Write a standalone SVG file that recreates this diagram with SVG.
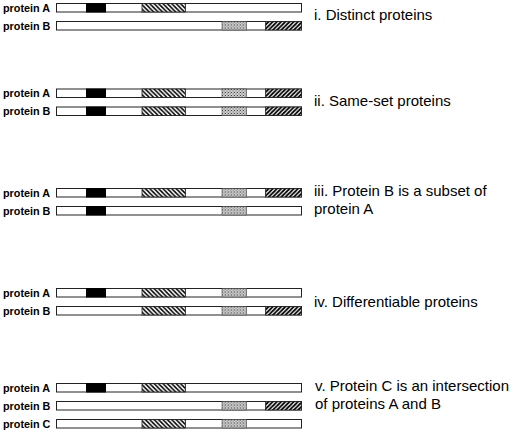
<svg xmlns="http://www.w3.org/2000/svg" width="513" height="433" viewBox="0 0 513 433">
<style>
.lbl{font-family:"Liberation Sans",Arial,sans-serif;font-weight:bold;font-size:10.8px;fill:#000}
.cap{font-family:"Liberation Sans",Arial,sans-serif;font-size:15px;fill:#000}
.bar{fill:#fff;stroke:#222;stroke-width:1}
.blk{fill:#000;stroke:#000;stroke-width:1}
.bs{fill:url(#bs);stroke:#222;stroke-width:0.8}
.fs{fill:url(#fs);stroke:#222;stroke-width:0.8}
.dt{fill:url(#dt);stroke:#444;stroke-width:0.6}
</style>
<defs>
<pattern id="bs" patternUnits="userSpaceOnUse" width="4.4" height="4.4">
<rect width="4.4" height="4.4" fill="#fff"/>
<path d="M0,0 L4.4,4.4 M-1,3.4 L1,5.4 M3.4,-1 L5.4,1" stroke="#000" stroke-width="1.5"/>
</pattern>
<pattern id="fs" patternUnits="userSpaceOnUse" width="4.2" height="4.2">
<rect width="4.2" height="4.2" fill="#fff"/>
<path d="M0,4.2 L4.2,0 M-1,1 L1,-1 M3.2,5.2 L5.2,3.2" stroke="#000" stroke-width="1.8"/>
</pattern>
<pattern id="dt" patternUnits="userSpaceOnUse" width="3" height="3">
<rect width="3" height="3" fill="#cfcfcf"/>
<rect x="0" y="0" width="1" height="1" fill="#444"/>
<rect x="1.5" y="1.5" width="1" height="1" fill="#666"/>
<rect x="2" y="0.5" width="0.7" height="0.7" fill="#888"/>
</pattern>
<g id="segBlk"><rect class="blk" x="86.5" y="0" width="19" height="8.5"/></g>
<g id="segBs"><rect class="bs" x="142" y="0" width="43.5" height="8.5"/></g>
<g id="segDt"><rect class="dt" x="222" y="0" width="24.5" height="8.5"/></g>
<g id="segFs"><rect class="fs" x="265.5" y="0" width="36" height="8.5"/></g>
</defs>

<g id="row-i">
<g id="i-protein-A" transform="translate(0,3.5)">
<text class="lbl" x="3" y="8.3">protein A</text>
<rect class="bar" x="56.5" y="0" width="245" height="8.5"/>
<use href="#segBlk"/><use href="#segBs"/>
</g>
<g id="i-protein-B" transform="translate(0,21.5)">
<text class="lbl" x="3" y="8.3">protein B</text>
<rect class="bar" x="56.5" y="0" width="245" height="8.5"/>
<use href="#segDt"/><use href="#segFs"/>
</g>
<text class="cap" x="314" y="20">i. Distinct proteins</text>
</g>

<g id="row-ii">
<g id="ii-protein-A" transform="translate(0,89)">
<text class="lbl" x="3" y="8.3">protein A</text>
<rect class="bar" x="56.5" y="0" width="245" height="8.5"/>
<use href="#segBlk"/><use href="#segBs"/><use href="#segDt"/><use href="#segFs"/>
</g>
<g id="ii-protein-B" transform="translate(0,107)">
<text class="lbl" x="3" y="8.3">protein B</text>
<rect class="bar" x="56.5" y="0" width="245" height="8.5"/>
<use href="#segBlk"/><use href="#segBs"/><use href="#segDt"/><use href="#segFs"/>
</g>
<text class="cap" x="314" y="106">ii. Same-set proteins</text>
</g>

<g id="row-iii">
<g id="iii-protein-A" transform="translate(0,188.5)">
<text class="lbl" x="3" y="8.3">protein A</text>
<rect class="bar" x="56.5" y="0" width="245" height="8.5"/>
<use href="#segBlk"/><use href="#segBs"/><use href="#segDt"/><use href="#segFs"/>
</g>
<g id="iii-protein-B" transform="translate(0,206.5)">
<text class="lbl" x="3" y="8.3">protein B</text>
<rect class="bar" x="56.5" y="0" width="245" height="8.5"/>
<use href="#segBlk"/><use href="#segDt"/>
</g>
<text class="cap" x="314" y="196">iii. Protein B is a subset of</text>
<text class="cap" x="314" y="213.5">protein A</text>
</g>

<g id="row-iv">
<g id="iv-protein-A" transform="translate(0,288.5)">
<text class="lbl" x="3" y="8.3">protein A</text>
<rect class="bar" x="56.5" y="0" width="245" height="8.5"/>
<use href="#segBlk"/><use href="#segBs"/><use href="#segDt"/>
</g>
<g id="iv-protein-B" transform="translate(0,306.5)">
<text class="lbl" x="3" y="8.3">protein B</text>
<rect class="bar" x="56.5" y="0" width="245" height="8.5"/>
<use href="#segBs"/><use href="#segDt"/><use href="#segFs"/>
</g>
<text class="cap" x="314" y="307">iv. Differentiable proteins</text>
</g>

<g id="row-v">
<g id="v-protein-A" transform="translate(0,383.5)">
<text class="lbl" x="3" y="8.3">protein A</text>
<rect class="bar" x="56.5" y="0" width="245" height="8.5"/>
<use href="#segBlk"/><use href="#segBs"/>
</g>
<g id="v-protein-B" transform="translate(0,401.5)">
<text class="lbl" x="3" y="8.3">protein B</text>
<rect class="bar" x="56.5" y="0" width="245" height="8.5"/>
<use href="#segDt"/><use href="#segFs"/>
</g>
<g id="v-protein-C" transform="translate(0,419.5)">
<text class="lbl" x="3" y="8.3">protein C</text>
<rect class="bar" x="56.5" y="0" width="245" height="8.5"/>
<use href="#segBs"/><use href="#segDt"/>
</g>
<text class="cap" x="315" y="391">v. Protein C is an intersection</text>
<text class="cap" x="315" y="408.5">of proteins A and B</text>
</g>

<g id="connectors"/>
</svg>
